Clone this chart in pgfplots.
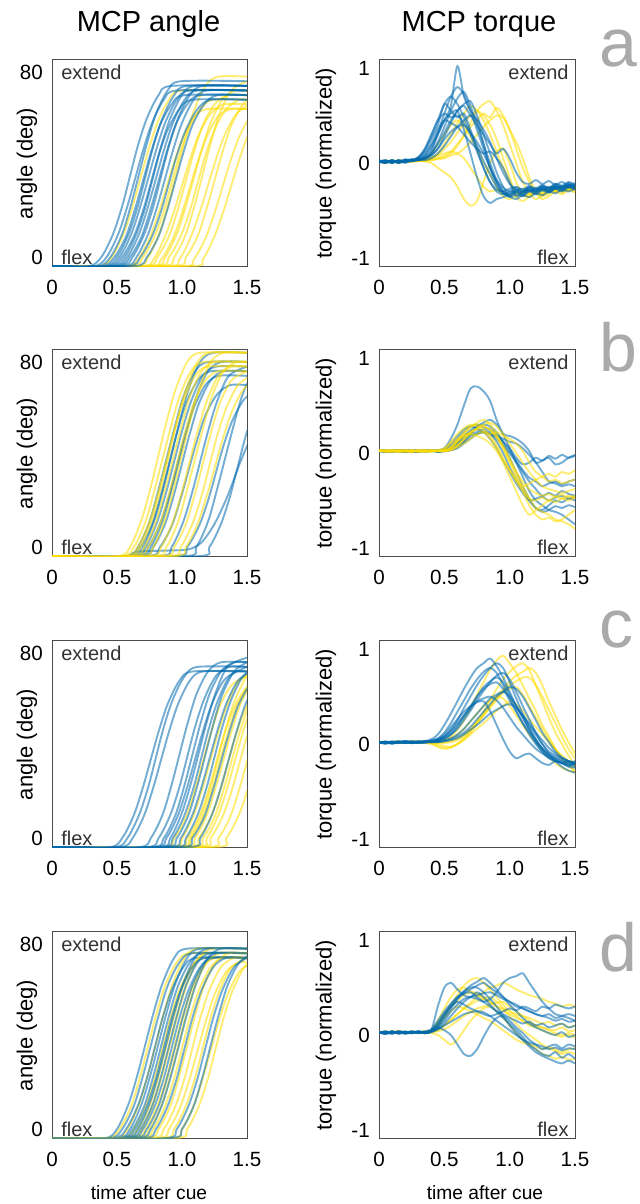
\documentclass[border=0pt]{standalone}
\usepackage{fontspec}
\setmainfont{Liberation Sans}
\usepackage{pgfplots}
\usepackage{pgfplotstable}
\pgfplotsset{compat=1.18}

\definecolor{tblue}{RGB}{0,105,175}
\definecolor{tyel}{RGB}{255,220,0}
\definecolor{lettergray}{RGB}{170,170,170}

\pgfplotsset{
  panel/.style={scale only axis, anchor=south west, width=97.5pt, height=103.5pt,
    xmin=0, xmax=1.5, xtick={0,0.5,1,1.5}, xticklabels={0,0.5,1.0,1.5},
    major tick length=0pt, tick label style={font=\fontsize{10.3}{12}\selectfont},
    xticklabel style={yshift=-3.2pt}, yticklabel style={xshift=-1.1pt},
    axis line style={black!70, line width=0.5pt}},
  anglepanel/.style={panel, ymin=-4.3, ymax=85.2, ytick={0,80}, yticklabels={0,80}},
  torquepanel/.style={panel, width=98pt, ymin=-1.095, ymax=1.085, ytick={-1,0,1}, yticklabels={-1,0,1}},
  yl/.style={color=tyel, line width=0.95pt, opacity=0.55, smooth},
  bl/.style={color=tblue, line width=0.95pt, opacity=0.55, smooth}
}
\tikzset{ext/.style={inner sep=0pt, font=\fontsize{10}{12}\selectfont, text=black!80}}

% torque traces, one row per trial, one column per time step (s)
\pgfplotstableread{
id 0 0.05 0.1 0.15 0.2 0.25 0.3 0.35 0.4 0.45 0.5 0.55 0.6 0.65 0.7 0.75 0.8 0.85 0.9 0.95 1 1.05 1.1 1.15 1.2 1.25 1.3 1.35 1.4 1.45 1.5
y1 0.02 0 0.02 0.01 0.03 0.02 0.03 0.02 0.04 0.05 0.06 0.1 0.18 0.3 0.42 0.55 0.62 0.65 0.55 0.4 0.2 0 -0.2 -0.32 -0.38 -0.34 -0.3 -0.27 -0.3 -0.26 -0.28
y2 0.01 0.02 0 0.03 0.02 0.03 0.02 0.03 0.03 0.05 0.08 0.12 0.2 0.28 0.38 0.45 0.52 0.48 0.58 0.5 0.35 0.22 0.05 -0.15 -0.3 -0.35 -0.32 -0.28 -0.31 -0.27 -0.3
y3 0.02 0.01 0.03 0 0.02 0.02 0.03 0.02 0 -0.05 -0.1 -0.15 -0.25 -0.38 -0.45 -0.4 -0.2 0 0.12 0.15 0 -0.2 -0.32 -0.36 -0.3 -0.33 -0.28 -0.3 -0.26 -0.28 -0.25
y4 0.01 0.02 0.01 0.02 0.02 0.03 0.04 0.05 0.1 0.2 0.3 0.4 0.45 0.38 0.28 0.15 0 -0.12 -0.25 -0.35 -0.38 -0.35 -0.3 -0.33 -0.28 -0.3 -0.26 -0.29 -0.25 -0.27 -0.24
y5 0.02 0 0.03 0.01 0.02 0.01 0.02 0.03 0.05 0.08 0.15 0.22 0.32 0.42 0.5 0.55 0.5 0.4 0.25 0.05 -0.15 -0.35 -0.4 -0.35 -0.3 -0.33 -0.28 -0.3 -0.26 -0.28 -0.25
y6 0.01 0.02 0.01 0.03 0.01 0.02 0.03 0.02 0.03 0.04 0.05 0.08 0.1 0.15 0.22 0.3 0.38 0.45 0.5 0.48 0.35 0.15 -0.05 -0.2 -0.32 -0.38 -0.35 -0.3 -0.33 -0.29 -0.31
y7 0.02 0.01 0.02 0 0.03 0.02 0.03 0.04 0.06 0.08 0.1 0.12 0.1 0.05 -0.05 -0.15 -0.25 -0.3 -0.28 -0.3 -0.35 -0.32 -0.34 -0.3 -0.32 -0.28 -0.3 -0.27 -0.29 -0.25 -0.28
y8 0.01 0.03 0.01 0.02 0.01 0.03 0.02 0.03 0.05 0.1 0.2 0.3 0.42 0.52 0.6 0.55 0.45 0.3 0.12 -0.05 -0.2 -0.3 -0.35 -0.33 -0.3 -0.32 -0.28 -0.31 -0.27 -0.29 -0.26
b1 0.02 0 0.03 0.01 0.03 0.02 0.05 0.12 0.25 0.4 0.62 0.55 0.48 0.52 0.35 0.15 -0.05 -0.2 -0.3 -0.33 -0.3 -0.26 -0.3 -0.25 -0.28 -0.24 -0.27 -0.22 -0.25 -0.21 -0.24
b2 0.01 0.02 0 0.03 0.01 0.04 0.03 0.06 0.12 0.3 0.45 0.6 1.02 0.7 0.55 0.45 0.2 -0.05 -0.2 -0.3 -0.32 -0.28 -0.31 -0.26 -0.29 -0.25 -0.27 -0.24 -0.26 -0.22 -0.25
b3 0.03 0.01 0.02 0 0.03 0.02 0.04 0.05 0.1 0.22 0.38 0.55 0.68 0.75 0.6 0.4 0.2 0 -0.18 -0.3 -0.36 -0.33 -0.35 -0.3 -0.33 -0.29 -0.31 -0.27 -0.3 -0.26 -0.28
b4 0.02 0 0.02 0.01 0.04 0.03 0.06 0.15 0.3 0.45 0.52 0.48 0.5 0.42 0.3 0.12 -0.05 -0.2 -0.28 -0.3 -0.27 -0.25 -0.28 -0.24 -0.27 -0.23 -0.26 -0.22 -0.24 -0.2 -0.23
b5 0.01 0.03 0 0.02 0.01 0.03 0.03 0.05 0.08 0.15 0.28 0.42 0.55 0.62 0.65 0.5 0.3 0.1 -0.1 -0.25 -0.35 -0.38 -0.34 -0.36 -0.32 -0.34 -0.3 -0.32 -0.28 -0.3 -0.27
b6 0.02 0.01 0.03 0 0.02 0.03 0.05 0.1 0.2 0.35 0.45 0.42 0.38 0.3 0.22 0.15 0.1 0.12 0.05 -0.05 -0.2 -0.35 -0.3 -0.28 -0.3 -0.26 -0.29 -0.25 -0.27 -0.23 -0.26
b7 0 0.02 0.01 0.03 0.02 0.04 0.03 0.08 0.18 0.3 0.45 0.52 0.55 0.35 0.1 -0.15 -0.35 -0.42 -0.38 -0.36 -0.33 -0.3 -0.32 -0.28 -0.3 -0.27 -0.29 -0.25 -0.27 -0.24 -0.26
b8 0.02 0 0.03 0.01 0.03 0.02 0.04 0.07 0.15 0.32 0.52 0.7 0.8 0.72 0.55 0.35 0.15 -0.05 -0.22 -0.32 -0.35 -0.31 -0.34 -0.29 -0.32 -0.28 -0.31 -0.27 -0.29 -0.25 -0.27
b9 0.01 0.03 0.01 0.02 0 0.03 0.04 0.05 0.1 0.2 0.32 0.45 0.55 0.6 0.5 0.4 0.3 0.2 0.1 0.15 0.05 -0.1 -0.2 -0.22 -0.18 -0.22 -0.19 -0.23 -0.2 -0.24 -0.21
b10 0.03 0.01 0.02 0.01 0.03 0.02 0.03 0.04 0.08 0.15 0.25 0.33 0.38 0.4 0.32 0.22 0.1 -0.05 -0.18 -0.26 -0.3 -0.29 -0.27 -0.3 -0.26 -0.28 -0.25 -0.27 -0.24 -0.26 -0.23
b11 0.02 0.01 0.03 0 0.03 0.03 0.06 0.14 0.28 0.45 0.62 0.7 0.62 0.48 0.32 0.18 0.02 -0.12 -0.25 -0.32 -0.34 -0.3 -0.33 -0.28 -0.31 -0.27 -0.3 -0.26 -0.28 -0.24 -0.27
b12 0.01 0.02 0 0.03 0.01 0.02 0.03 0.03 0.05 0.1 0.18 0.28 0.38 0.45 0.5 0.45 0.35 0.22 0.05 -0.1 -0.22 -0.28 -0.3 -0.26 -0.29 -0.25 -0.28 -0.24 -0.26 -0.23 -0.25
}\rawa
\pgfplotstabletranspose[colnames from=id,input colnames to=t]{\tqa}{\rawa}

\pgfplotstableread{
id 0 0.05 0.1 0.15 0.2 0.25 0.3 0.35 0.4 0.45 0.5 0.55 0.6 0.65 0.7 0.75 0.8 0.85 0.9 0.95 1 1.05 1.1 1.15 1.2 1.25 1.3 1.35 1.4 1.45 1.5
y1 0.03 0.02 0.03 0.01 0.03 0.02 0.02 0.03 0.02 0.02 0.03 0.06 0.12 0.2 0.27 0.32 0.35 0.3 0.2 0.05 -0.1 -0.25 -0.4 -0.55 -0.65 -0.7 -0.68 -0.72 -0.7 -0.65 -0.6
y2 0.02 0.03 0.02 0.02 0.03 0.01 0.03 0.02 0.02 0.03 0.05 0.12 0.2 0.26 0.3 0.28 0.25 0.18 0.08 -0.05 -0.18 -0.3 -0.4 -0.48 -0.5 -0.47 -0.5 -0.46 -0.48 -0.45 -0.47
y3 0.03 0.01 0.02 0.03 0.02 0.03 0.02 0.01 0.03 0.02 0.02 0.03 0.06 0.1 0.15 0.2 0.22 0.2 0.22 0.18 0.15 0.1 0.02 -0.1 -0.2 -0.25 -0.3 -0.28 -0.32 -0.3 -0.28
y4 0.02 0.02 0.03 0.02 0.02 0.03 0.01 0.03 0.02 0.03 0.02 0.05 0.12 0.18 0.22 0.25 0.22 0.15 0.05 -0.1 -0.25 -0.4 -0.55 -0.65 -0.6 -0.55 -0.5 -0.52 -0.48 -0.5 -0.47
y5 0.03 0.02 0.01 0.03 0.02 0.02 0.03 0.02 0.01 0.03 0.02 0.03 0.08 0.14 0.2 0.26 0.3 0.32 0.28 0.2 0.1 0 -0.1 -0.2 -0.28 -0.35 -0.38 -0.4 -0.42 -0.4 -0.38
y6 0.02 0.03 0.02 0.01 0.03 0.02 0.02 0.03 0.02 0.02 0.04 0.1 0.15 0.18 0.2 0.18 0.15 0.1 0.02 -0.08 -0.18 -0.28 -0.35 -0.32 -0.28 -0.25 -0.22 -0.25 -0.2 -0.22 -0.18
y7 0.03 0.02 0.03 0.02 0.01 0.03 0.02 0.02 0.03 0.02 0.03 0.04 0.08 0.15 0.22 0.26 0.28 0.25 0.18 0.08 -0.05 -0.2 -0.35 -0.48 -0.58 -0.62 -0.65 -0.7 -0.72 -0.75 -0.8
y8 0.02 0.02 0.02 0.03 0.02 0.01 0.03 0.02 0.03 0.02 0.02 0.06 0.14 0.22 0.28 0.3 0.28 0.24 0.16 0.05 -0.08 -0.2 -0.3 -0.38 -0.42 -0.45 -0.43 -0.46 -0.44 -0.47 -0.45
b1 0.03 0.01 0.03 0.02 0.03 0.01 0.02 0.03 0.02 0.03 0.05 0.15 0.3 0.5 0.68 0.7 0.65 0.55 0.35 0.2 0.18 0.15 0.1 0.02 -0.1 -0.08 -0.05 -0.12 -0.1 -0.05 -0.02
b2 0.02 0.03 0.01 0.03 0.02 0.02 0.01 0.03 0.02 0.02 0.03 0.06 0.12 0.18 0.24 0.28 0.3 0.28 0.22 0.1 -0.05 -0.2 -0.35 -0.48 -0.58 -0.6 -0.55 -0.5 -0.52 -0.48 -0.5
b3 0.03 0.02 0.02 0.01 0.03 0.03 0.02 0.02 0.03 0.01 0.02 0.05 0.1 0.18 0.22 0.25 0.22 0.2 0.15 0.08 0 -0.1 -0.2 -0.3 -0.38 -0.45 -0.42 -0.45 -0.4 -0.43 -0.45
b4 0.02 0.03 0.02 0.02 0.01 0.03 0.02 0.03 0.02 0.03 0.02 0.04 0.08 0.12 0.18 0.2 0.22 0.2 0.18 0.15 0.12 0.1 0.05 -0.02 -0.1 -0.2 -0.3 -0.32 -0.35 -0.33 -0.35
b5 0.03 0.01 0.02 0.03 0.02 0.02 0.03 0.01 0.02 0.03 0.02 0.03 0.06 0.12 0.2 0.28 0.32 0.35 0.3 0.2 0.05 -0.1 -0.25 -0.4 -0.5 -0.55 -0.6 -0.62 -0.65 -0.7 -0.75
b6 0.02 0.02 0.03 0.02 0.01 0.02 0.03 0.02 0.03 0.02 0.04 0.1 0.18 0.25 0.28 0.26 0.22 0.15 0.05 -0.08 -0.2 -0.32 -0.42 -0.5 -0.48 -0.46 -0.5 -0.47 -0.45 -0.48 -0.46
b7 0.03 0.02 0.01 0.03 0.02 0.03 0.02 0.02 0.03 0.01 0.03 0.05 0.1 0.15 0.2 0.22 0.25 0.22 0.18 0.12 0.05 -0.05 -0.12 -0.1 -0.05 -0.08 -0.03 -0.06 -0.02 -0.05 -0.03
b8 0.02 0.01 0.03 0.02 0.03 0.02 0.01 0.03 0.02 0.02 0.02 0.03 0.05 0.1 0.15 0.2 0.22 0.2 0.12 0 -0.15 -0.28 -0.4 -0.5 -0.58 -0.62 -0.6 -0.56 -0.58 -0.55 -0.57
b9 0.03 0.02 0.02 0.03 0.01 0.02 0.02 0.03 0.02 0.03 0.03 0.08 0.15 0.22 0.28 0.3 0.27 0.25 0.2 0.12 0.02 -0.08 -0.18 -0.26 -0.3 -0.35 -0.32 -0.3 -0.33 -0.3 -0.28
}\rawb
\pgfplotstabletranspose[colnames from=id,input colnames to=t]{\tqb}{\rawb}

\pgfplotstableread{
id 0 0.05 0.1 0.15 0.2 0.25 0.3 0.35 0.4 0.45 0.5 0.55 0.6 0.65 0.7 0.75 0.8 0.85 0.9 0.95 1 1.05 1.1 1.15 1.2 1.25 1.3 1.35 1.4 1.45 1.5
y1 0.02 0.01 0.02 0.02 0.01 0.02 0.03 0.02 0.02 0.03 0.04 0.08 0.15 0.25 0.38 0.52 0.65 0.78 0.88 0.93 0.85 0.75 0.62 0.48 0.35 0.2 0.08 -0.05 -0.15 -0.22 -0.28
y2 0.01 0.02 0.02 0.01 0.02 0.03 0.02 0.02 0.01 0 -0.02 -0.03 0 0.05 0.12 0.22 0.34 0.46 0.58 0.68 0.76 0.82 0.85 0.78 0.62 0.45 0.28 0.12 0 -0.12 -0.22
y3 0.02 0.02 0.01 0.02 0.02 0.01 0.02 0.01 0 -0.03 -0.05 -0.04 0 0.06 0.14 0.22 0.3 0.38 0.46 0.54 0.58 0.6 0.52 0.4 0.28 0.16 0.05 -0.05 -0.15 -0.22 -0.3
y4 0.02 0.01 0.02 0.03 0.01 0.02 0.02 0.02 0.02 0.01 0.02 0.03 0.06 0.1 0.16 0.24 0.32 0.4 0.48 0.56 0.62 0.66 0.7 0.7 0.62 0.5 0.36 0.22 0.08 -0.05 -0.15
y5 0.01 0.02 0.01 0.02 0.02 0.02 0.01 0.03 0.02 0.02 0.04 0.06 0.1 0.16 0.24 0.32 0.4 0.46 0.5 0.48 0.4 0.3 0.2 0.1 0.02 -0.06 -0.14 -0.2 -0.25 -0.28 -0.3
y6 0.02 0.02 0.02 0.01 0.02 0.01 0.02 0.02 0.01 0.02 0.01 0.02 0.04 0.08 0.14 0.22 0.3 0.4 0.5 0.58 0.66 0.72 0.76 0.8 0.75 0.62 0.45 0.3 0.15 0.02 -0.1
y7 0.02 0.01 0.02 0.02 0.01 0.02 0.02 0.01 0.01 -0.02 -0.04 -0.03 0 0.04 0.1 0.16 0.22 0.28 0.35 0.4 0.45 0.42 0.35 0.26 0.18 0.1 0.02 -0.06 -0.12 -0.18 -0.24
b1 0.02 0.01 0.02 0.02 0.03 0.01 0.02 0.03 0.05 0.1 0.2 0.32 0.45 0.58 0.7 0.8 0.85 0.9 0.82 0.7 0.55 0.4 0.28 0.15 0.02 -0.08 -0.15 -0.18 -0.2 -0.22 -0.2
b2 0.01 0.02 0 0.02 0.02 0.01 0.03 0.02 0.02 0.04 0.08 0.15 0.25 0.38 0.5 0.62 0.72 0.8 0.85 0.8 0.65 0.48 0.32 0.18 0.05 -0.05 -0.12 -0.15 -0.18 -0.2 -0.22
b3 0.02 0 0.02 0.01 0.03 0.02 0.01 0.02 0.03 0.03 0.05 0.1 0.18 0.28 0.38 0.5 0.6 0.66 0.7 0.65 0.52 0.4 0.28 0.15 0.05 -0.05 -0.1 -0.14 -0.17 -0.2 -0.18
b4 0.01 0.03 0.01 0.02 0.01 0.02 0.02 0.03 0.02 0.03 0.04 0.06 0.1 0.16 0.24 0.32 0.4 0.48 0.52 0.55 0.5 0.4 0.3 0.2 0.1 0 -0.08 -0.12 -0.15 -0.18 -0.2
b5 0.02 0.01 0.02 0.03 0.01 0.02 0.03 0.02 0.03 0.05 0.1 0.18 0.26 0.34 0.4 0.44 0.45 0.35 0.2 0.05 -0.08 -0.15 -0.12 -0.1 -0.15 -0.2 -0.22 -0.18 -0.2 -0.23 -0.2
b6 0.02 0.02 0.01 0.02 0.03 0.01 0.02 0.02 0.04 0.06 0.12 0.22 0.34 0.46 0.58 0.68 0.76 0.8 0.75 0.62 0.48 0.35 0.22 0.1 0 -0.08 -0.14 -0.18 -0.2 -0.24 -0.25
b7 0.01 0.02 0.02 0.01 0.02 0.03 0.01 0.02 0.02 0.02 0.03 0.05 0.08 0.12 0.18 0.26 0.34 0.42 0.5 0.55 0.6 0.58 0.5 0.38 0.25 0.12 0.02 -0.08 -0.14 -0.18 -0.22
b8 0.02 0.01 0.03 0.01 0.02 0.01 0.02 0.03 0.02 0.02 0.03 0.04 0.06 0.1 0.15 0.2 0.26 0.32 0.36 0.4 0.42 0.38 0.3 0.22 0.12 0.04 -0.04 -0.1 -0.15 -0.18 -0.2
b9 0.02 0.02 0.01 0.03 0.01 0.02 0.02 0.01 0.03 0.04 0.06 0.1 0.16 0.25 0.35 0.46 0.56 0.65 0.72 0.75 0.68 0.55 0.4 0.26 0.12 0 -0.1 -0.18 -0.24 -0.28 -0.3
b10 0.01 0.02 0.02 0.02 0.03 0.02 0.01 0.03 0.03 0.05 0.08 0.14 0.22 0.3 0.38 0.45 0.48 0.5 0.46 0.38 0.28 0.18 0.1 0.02 -0.05 -0.1 -0.14 -0.17 -0.2 -0.18 -0.2
b11 0.02 0.01 0.02 0.02 0.01 0.03 0.02 0.02 0.03 0.04 0.07 0.12 0.2 0.3 0.4 0.5 0.58 0.63 0.65 0.58 0.46 0.34 0.22 0.12 0.03 -0.05 -0.12 -0.16 -0.2 -0.22 -0.24
}\rawc
\pgfplotstabletranspose[colnames from=id,input colnames to=t]{\tqc}{\rawc}

\pgfplotstableread{
id 0 0.05 0.1 0.15 0.2 0.25 0.3 0.35 0.4 0.45 0.5 0.55 0.6 0.65 0.7 0.75 0.8 0.85 0.9 0.95 1 1.05 1.1 1.15 1.2 1.25 1.3 1.35 1.4 1.45 1.5
y1 0.03 0.02 0.04 0.02 0.03 0.03 0.03 0.02 0.04 0.1 0.2 0.32 0.42 0.52 0.58 0.6 0.55 0.48 0.4 0.32 0.25 0.2 0.15 0.1 0.08 0.05 0.02 0 -0.02 0 -0.03
y2 0.02 0.04 0.02 0.03 0.02 0.03 0.03 0.04 0.02 0 -0.05 -0.1 -0.05 0.05 0.15 0.22 0.28 0.3 0.25 0.18 0.1 0.02 -0.05 -0.1 -0.15 -0.2 -0.22 -0.25 -0.23 -0.26 -0.25
y3 0.03 0.02 0.03 0.04 0.02 0.03 0.02 0.03 0.05 0.15 0.28 0.4 0.48 0.5 0.46 0.42 0.38 0.35 0.3 0.25 0.22 0.18 0.15 0.12 0.1 0.08 0.06 0.05 0.08 0.04 0.05
y4 0.02 0.03 0.02 0.03 0.03 0.02 0.03 0.02 0.03 0.05 0.1 0.16 0.22 0.28 0.32 0.36 0.38 0.4 0.35 0.28 0.2 0.12 0.05 0 -0.05 -0.1 -0.14 -0.17 -0.2 -0.18 -0.2
y5 0.03 0.02 0.04 0.02 0.03 0.02 0.03 0.03 0.04 0.06 0.1 0.16 0.22 0.28 0.34 0.4 0.45 0.5 0.52 0.55 0.52 0.48 0.45 0.42 0.4 0.38 0.35 0.33 0.3 0.32 0.3
y6 0.02 0.03 0.03 0.02 0.03 0.03 0.02 0.04 0.04 0.1 0.18 0.25 0.3 0.28 0.25 0.22 0.18 0.15 0.1 0.05 0 -0.05 -0.08 -0.1 -0.12 -0.15 -0.13 -0.15 -0.18 -0.15 -0.14
y7 0.03 0.02 0.03 0.03 0.02 0.04 0.02 0.03 0.05 0.12 0.22 0.3 0.36 0.42 0.45 0.44 0.4 0.35 0.3 0.28 0.25 0.22 0.2 0.18 0.15 0.12 0.14 0.1 0.12 0.08 0.1
y8 0.02 0.03 0.02 0.04 0.03 0.02 0.03 0.02 0.03 0.04 0.06 0.1 0.15 0.2 0.24 0.28 0.3 0.32 0.34 0.35 0.3 0.25 0.2 0.15 0.1 0.08 0.05 0.02 0 0.02 0
b1 0.03 0.01 0.04 0.02 0.04 0.02 0.04 0.03 0.05 0.3 0.5 0.55 0.48 0.42 0.4 0.45 0.4 0.32 0.25 0.18 0.12 0.05 -0.02 -0.1 -0.15 -0.2 -0.22 -0.18 -0.24 -0.2 -0.25
b2 0.02 0.04 0.02 0.04 0.01 0.03 0.03 0.02 0.04 0.1 0.2 0.3 0.38 0.44 0.48 0.52 0.55 0.5 0.45 0.4 0.35 0.32 0.28 0.25 0.22 0.2 0.18 0.15 0.17 0.14 0.15
b3 0.03 0.02 0.04 0.01 0.03 0.02 0.04 0.03 0.05 0.08 0.05 0 -0.1 -0.2 -0.22 -0.15 -0.02 0.1 0.18 0.2 0.15 0.08 0.02 -0.05 -0.1 -0.15 -0.12 -0.1 -0.14 -0.1 -0.12
b4 0.02 0.03 0.02 0.04 0.02 0.03 0.02 0.04 0.06 0.15 0.25 0.33 0.4 0.44 0.45 0.4 0.35 0.3 0.25 0.22 0.18 0.15 0.12 0.14 0.1 0.12 0.08 0.1 0.12 0.08 0.1
b5 0.03 0.01 0.03 0.03 0.02 0.04 0.02 0.03 0.04 0.08 0.15 0.25 0.32 0.38 0.4 0.38 0.35 0.38 0.45 0.55 0.6 0.62 0.65 0.55 0.45 0.35 0.28 0.22 0.2 0.18 0.15
b6 0.02 0.03 0.01 0.04 0.03 0.02 0.03 0.02 0.04 0.12 0.22 0.32 0.4 0.46 0.5 0.5 0.45 0.38 0.3 0.2 0.1 0.02 -0.05 -0.12 -0.18 -0.22 -0.25 -0.28 -0.3 -0.27 -0.3
b7 0.03 0.02 0.03 0.02 0.03 0.03 0.02 0.03 0.05 0.12 0.22 0.3 0.35 0.32 0.28 0.25 0.22 0.2 0.22 0.25 0.28 0.26 0.3 0.28 0.25 0.3 0.28 0.32 0.3 0.28 0.3
b8 0.02 0.04 0.02 0.03 0.02 0.04 0.03 0.02 0.03 0.08 0.18 0.28 0.38 0.46 0.52 0.56 0.6 0.55 0.48 0.4 0.32 0.25 0.18 0.12 0.08 0.05 0.02 0 0.03 -0.02 0
b9 0.03 0.02 0.04 0.02 0.03 0.02 0.03 0.03 0.04 0.06 0.1 0.14 0.18 0.22 0.24 0.25 0.24 0.2 0.15 0.1 0.05 0 -0.05 -0.08 -0.1 -0.12 -0.15 -0.13 -0.16 -0.14 -0.15
b10 0.02 0.03 0.02 0.03 0.03 0.02 0.04 0.02 0.03 0.06 0.12 0.2 0.28 0.35 0.4 0.42 0.44 0.45 0.42 0.38 0.35 0.3 0.28 0.25 0.22 0.2 0.22 0.18 0.2 0.22 0.2
}\rawd
\pgfplotstabletranspose[colnames from=id,input colnames to=t]{\tqd}{\rawd}

\begin{document}
\begin{tikzpicture}
\useasboundingbox (0,0) rectangle (320pt,602pt);

% ---------- row a ----------
\begin{axis}[anglepanel, at={(26pt,468.5pt)}]
\addplot[yl] coordinates {(0,-4)(.36,-4)(.46,0)(.55,10)(.62,22)(.68,34)(.74,46)(.81,58)(.90,68)(1.00,72)(1.5,72)};
\addplot[yl] coordinates {(0,-4)(.56,-4)(.66,-1)(.75,8)(.82,19)(.88,30)(.94,41)(1.01,52)(1.10,61)(1.20,64)(1.5,64)};
\addplot[yl] coordinates {(0,-4)(.60,-4)(.70,0)(.79,9)(.86,20)(.92,32)(.98,44)(1.05,55)(1.14,64)(1.24,68)(1.5,68)};
\addplot[yl] coordinates {(0,-4)(.64,-4)(.74,0)(.83,11)(.90,24)(.96,37)(1.02,50)(1.09,63)(1.18,74)(1.28,78)(1.5,78)};
\addplot[yl] coordinates {(0,-4)(.68,-4)(.78,-1)(.87,9)(.94,20)(1.00,31)(1.06,42)(1.13,53)(1.22,62)(1.32,66)(1.5,66)};
\addplot[yl] coordinates {(0,-4)(.71,-4)(.81,0)(.90,9)(.97,21)(1.03,33)(1.09,45)(1.16,57)(1.25,66)(1.35,70)(1.5,70)};
\addplot[yl] coordinates {(0,-4)(.74,-4)(.84,-1)(.93,8)(1.00,19)(1.06,30)(1.12,41)(1.19,52)(1.28,61)(1.38,64)(1.5,64)};
\addplot[yl] coordinates {(0,-4)(.77,-4)(.87,0)(.96,10)(1.03,22)(1.09,34)(1.15,46)(1.22,58)(1.31,68)(1.41,72)(1.5,72)};
\addplot[yl] coordinates {(0,-4)(.80,-4)(.90,0)(.99,9)(1.06,20)(1.12,32)(1.18,44)(1.25,55)(1.34,64)(1.44,68)(1.5,68)};
\addplot[yl] coordinates {(0,-4)(.84,-4)(.94,0)(1.03,10)(1.10,23)(1.16,36)(1.22,49)(1.29,62)(1.38,72)(1.5,76)};
\addplot[yl] coordinates {(0,-4)(.88,-4)(.98,-1)(1.07,9)(1.14,20)(1.20,31)(1.26,42)(1.33,53)(1.42,62)(1.52,66)};
\addplot[yl] coordinates {(0,-4)(.93,-4)(1.03,0)(1.12,9)(1.19,21)(1.25,33)(1.31,45)(1.38,57)(1.47,66)(1.57,70)};
\addplot[yl] coordinates {(0,-4)(.99,-4)(1.09,-1)(1.18,8)(1.25,19)(1.31,30)(1.37,41)(1.44,52)(1.53,61)(1.63,64)};
\addplot[yl] coordinates {(0,-4)(1.06,-4)(1.16,-1)(1.25,9)(1.32,20)(1.38,31)(1.44,42)(1.51,53)(1.60,62)};
\addplot[bl] coordinates {(0,-4)(.28,-4)(.38,0)(.47,10)(.54,22)(.60,35)(.66,48)(.73,60)(.82,70)(.92,74)(1.5,74)};
\addplot[bl] coordinates {(0,-4)(.32,-4)(.42,0)(.51,10)(.58,22)(.64,34)(.70,46)(.77,58)(.86,68)(.96,72)(1.5,72)};
\addplot[bl] coordinates {(0,-4)(.35,-4)(.45,0)(.54,10)(.61,23)(.67,36)(.73,49)(.80,62)(.89,72)(.99,76)(1.5,76)};
\addplot[bl] coordinates {(0,-4)(.38,-4)(.48,0)(.57,9)(.64,21)(.70,33)(.76,45)(.83,57)(.92,66)(1.02,70)(1.5,70)};
\addplot[bl] coordinates {(0,-4)(.40,-4)(.50,0)(.59,10)(.66,22)(.72,35)(.78,48)(.85,60)(.94,70)(1.04,74)(1.5,74)};
\addplot[bl] coordinates {(0,-4)(.42,-4)(.52,0)(.61,10)(.68,22)(.74,34)(.80,46)(.87,58)(.96,68)(1.06,72)(1.5,72)};
\addplot[bl] coordinates {(0,-4)(.44,-4)(.54,0)(.63,9)(.70,20)(.76,32)(.82,44)(.89,55)(.98,64)(1.08,68)(1.5,68)};
\addplot[bl] coordinates {(0,-4)(.46,-4)(.56,0)(.65,10)(.72,22)(.78,35)(.84,48)(.91,60)(1.00,70)(1.10,74)(1.5,74)};
\addplot[bl] coordinates {(0,-4)(.48,-4)(.58,0)(.67,10)(.74,22)(.80,34)(.86,46)(.93,58)(1.02,68)(1.12,72)(1.5,72)};
\addplot[bl] coordinates {(0,-4)(.50,-4)(.60,0)(.69,9)(.76,21)(.82,33)(.88,45)(.95,57)(1.04,66)(1.14,70)(1.5,70)};
\addplot[bl] coordinates {(0,-4)(.52,-4)(.62,0)(.71,10)(.78,22)(.84,35)(.90,48)(.97,60)(1.06,70)(1.16,74)(1.5,74)};
\addplot[bl] coordinates {(0,-4)(.55,-4)(.65,0)(.74,10)(.81,22)(.87,34)(.93,46)(1.00,58)(1.09,68)(1.19,72)(1.5,72)};
\addplot[bl] coordinates {(0,-4)(.58,-4)(.68,0)(.77,9)(.84,20)(.90,32)(.96,44)(1.03,55)(1.12,64)(1.22,68)(1.5,68)};
\addplot[bl] coordinates {(0,-4)(.63,-4)(.73,0)(.82,9)(.89,21)(.95,33)(1.01,45)(1.08,57)(1.17,66)(1.27,70)(1.5,70)};
\node[ext, anchor=west] at (rel axis cs:0.046,0.942) {extend};
\node[ext, anchor=west] at (rel axis cs:0.046,0.048) {flex};
\end{axis}

\begin{axis}[torquepanel, at={(189.5pt,468.5pt)}]
\pgfplotsinvokeforeach{y1,y2,y3,y4,y5,y6,y7,y8}{\addplot[yl] table[x=t,y=#1]{\tqa};}
\pgfplotsinvokeforeach{b1,b2,b3,b4,b5,b6,b7,b8,b9,b10,b11,b12}{\addplot[bl] table[x=t,y=#1]{\tqa};}
\node[ext, anchor=east] at (rel axis cs:0.969,0.942) {extend};
\node[ext, anchor=east] at (rel axis cs:0.969,0.048) {flex};
\end{axis}

% ---------- row b ----------
\begin{axis}[anglepanel, at={(26pt,323.5pt)}]
\addplot[bl] coordinates {(0,-4)(.56,-4)(.66,0)(.75,11)(.82,25)(.88,38)(.94,51)(1.01,65)(1.10,76)(1.20,80)(1.5,80)};
\addplot[bl] coordinates {(0,-4)(.58,-4)(.68,0)(.77,10)(.84,23)(.90,36)(.96,49)(1.03,62)(1.12,72)(1.22,76)(1.5,76)};
\addplot[bl] coordinates {(0,-4)(.60,-4)(.70,0)(.79,12)(.86,26)(.92,40)(.98,54)(1.05,68)(1.14,80)(1.24,84)(1.5,84)};
\addplot[bl] coordinates {(0,-4)(.62,-4)(.72,0)(.81,11)(.88,24)(.94,37)(1.00,50)(1.07,63)(1.16,74)(1.26,78)(1.5,78)};
\addplot[bl] coordinates {(0,-4)(.64,-4)(.74,0)(.83,10)(.90,22)(.96,35)(1.02,48)(1.09,60)(1.18,70)(1.28,74)(1.5,74)};
\addplot[bl] coordinates {(0,-4)(.66,-4)(.76,0)(.85,11)(.92,25)(.98,38)(1.04,51)(1.11,65)(1.20,76)(1.30,80)(1.5,80)};
\addplot[bl] coordinates {(0,-4)(.68,-4)(.78,0)(.87,10)(.94,23)(1.00,36)(1.06,49)(1.13,62)(1.22,72)(1.32,76)(1.5,76)};
\addplot[bl] coordinates {(0,-4)(.73,-4)(.83,0)(.92,9)(.99,21)(1.05,33)(1.11,45)(1.18,57)(1.27,66)(1.37,70)(1.5,70)};
\addplot[bl] coordinates {(0,-4)(.82,-4)(.92,0)(1.01,11)(1.08,24)(1.14,37)(1.20,50)(1.27,63)(1.36,74)(1.5,78)};
\addplot[bl] coordinates {(0,-4)(.94,-4)(1.04,0)(1.13,9)(1.20,20)(1.26,32)(1.32,44)(1.39,55)(1.48,64)(1.58,68)};
\addplot[bl] coordinates {(0,-4)(1.01,-4)(1.11,0)(1.20,11)(1.27,25)(1.33,38)(1.39,51)(1.46,65)(1.55,76)(1.65,80)};
\addplot[bl] coordinates {(0,-4)(.55,-4)(.65,-2)(.90,-1.5)(1.05,-1)(1.15,2)(1.25,10)(1.35,22)(1.45,37)(1.55,50)};
\addplot[bl] coordinates {(0,-4)(1.11,-4)(1.21,0)(1.30,10)(1.37,22)(1.43,35)(1.49,48)(1.56,60)};
\addplot[yl] coordinates {(0,-4)(.50,-4)(.60,0)(.69,12)(.76,26)(.82,40)(.88,54)(.95,68)(1.04,80)(1.14,84)(1.5,84)};
\addplot[yl] coordinates {(0,-4)(.53,-4)(.63,0)(.72,11)(.79,25)(.85,38)(.91,51)(.98,65)(1.07,76)(1.17,80)(1.5,80)};
\addplot[yl] coordinates {(0,-4)(.56,-4)(.66,0)(.75,11)(.82,24)(.88,37)(.94,50)(1.01,63)(1.10,74)(1.20,78)(1.5,78)};
\addplot[yl] coordinates {(0,-4)(.58,-4)(.68,0)(.77,12)(.84,26)(.90,40)(.96,54)(1.03,68)(1.12,80)(1.22,84)(1.5,84)};
\addplot[yl] coordinates {(0,-4)(.61,-4)(.71,0)(.80,11)(.87,25)(.93,38)(.99,51)(1.06,65)(1.15,76)(1.25,80)(1.5,80)};
\addplot[yl] coordinates {(0,-4)(.64,-4)(.74,0)(.83,10)(.90,23)(.96,36)(1.02,49)(1.09,62)(1.18,72)(1.28,76)(1.5,76)};
\addplot[yl] coordinates {(0,-4)(.68,-4)(.78,0)(.87,12)(.94,26)(1.00,40)(1.06,54)(1.13,68)(1.22,80)(1.32,84)(1.5,84)};
\addplot[yl] coordinates {(0,-4)(.74,-4)(.84,0)(.93,11)(1.00,24)(1.06,37)(1.12,50)(1.19,63)(1.28,74)(1.38,78)(1.5,78)};
\addplot[yl] coordinates {(0,-4)(.78,-4)(.88,0)(.97,11)(1.04,25)(1.10,38)(1.16,51)(1.23,65)(1.32,76)(1.42,80)(1.5,80)};
\addplot[yl] coordinates {(0,-4)(.84,-4)(.94,0)(1.03,10)(1.10,23)(1.16,36)(1.22,49)(1.29,62)(1.38,72)(1.5,76)};
\addplot[yl] coordinates {(0,-4)(.89,-4)(.99,0)(1.08,10)(1.15,22)(1.21,35)(1.27,48)(1.34,60)(1.43,70)(1.53,74)};
\addplot[yl] coordinates {(0,-4)(.93,-4)(1.03,0)(1.12,10)(1.19,22)(1.25,34)(1.31,46)(1.38,58)(1.47,68)(1.57,72)};
\node[ext, anchor=west] at (rel axis cs:0.046,0.942) {extend};
\node[ext, anchor=west] at (rel axis cs:0.046,0.048) {flex};
\end{axis}

\begin{axis}[torquepanel, at={(189.5pt,323.5pt)}]
\pgfplotsinvokeforeach{b1,b2,b3,b4,b5,b6,b7,b8,b9}{\addplot[bl] table[x=t,y=#1]{\tqb};}
\pgfplotsinvokeforeach{y1,y2,y3,y4,y5,y6,y7,y8}{\addplot[yl] table[x=t,y=#1]{\tqb};}
\node[ext, anchor=east] at (rel axis cs:0.969,0.942) {extend};
\node[ext, anchor=east] at (rel axis cs:0.969,0.048) {flex};
\end{axis}

% ---------- row c ----------
\begin{axis}[anglepanel, at={(26pt,178pt)}]
\addplot[yl] coordinates {(0,-4)(.84,-4)(.94,0)(1.03,9)(1.10,21)(1.16,33)(1.22,45)(1.29,57)(1.38,66)(1.5,70)};
\addplot[yl] coordinates {(0,-4)(.90,-4)(1.00,0)(1.09,10)(1.16,22)(1.22,34)(1.28,46)(1.35,58)(1.44,68)(1.54,72)};
\addplot[yl] coordinates {(0,-4)(.94,-4)(1.04,0)(1.13,9)(1.20,20)(1.26,32)(1.32,44)(1.39,55)(1.48,64)(1.58,68)};
\addplot[yl] coordinates {(0,-4)(.97,-4)(1.07,0)(1.16,9)(1.23,21)(1.29,33)(1.35,45)(1.42,57)(1.51,66)};
\addplot[yl] coordinates {(0,-4)(1.00,-4)(1.10,0)(1.19,10)(1.26,22)(1.32,34)(1.38,46)(1.45,58)(1.54,68)};
\addplot[yl] coordinates {(0,-4)(1.03,-4)(1.13,0)(1.22,9)(1.29,20)(1.35,32)(1.41,44)(1.48,55)(1.57,64)};
\addplot[yl] coordinates {(0,-4)(1.06,-4)(1.16,0)(1.25,9)(1.32,21)(1.38,33)(1.44,45)(1.51,57)};
\addplot[yl] coordinates {(0,-4)(1.09,-4)(1.19,0)(1.28,10)(1.35,22)(1.41,34)(1.47,46)(1.54,58)};
\addplot[yl] coordinates {(0,-4)(1.12,-4)(1.22,0)(1.31,9)(1.38,20)(1.44,32)(1.50,44)(1.57,55)};
\addplot[yl] coordinates {(0,-4)(1.18,-4)(1.28,0)(1.37,9)(1.44,21)(1.50,33)(1.56,45)};
\addplot[yl] coordinates {(0,-4)(1.24,-4)(1.34,0)(1.43,9)(1.50,20)(1.56,32)};
\addplot[yl] coordinates {(0,-4)(.96,-4)(1.06,0)(1.15,10)(1.22,22)(1.28,35)(1.34,48)(1.41,60)(1.50,70)(1.60,74)};
\addplot[bl] coordinates {(0,-4)(.44,-4)(.54,0)(.63,10)(.70,22)(.76,34)(.82,46)(.89,58)(.98,68)(1.08,72)(1.5,72)};
\addplot[bl] coordinates {(0,-4)(.48,-4)(.58,0)(.67,10)(.74,22)(.80,35)(.86,48)(.93,60)(1.02,70)(1.12,74)(1.5,74)};
\addplot[bl] coordinates {(0,-4)(.52,-4)(.62,0)(.71,10)(.78,22)(.84,34)(.90,46)(.97,58)(1.06,68)(1.16,72)(1.5,72)};
\addplot[bl] coordinates {(0,-4)(.66,-4)(.76,0)(.85,10)(.92,23)(.98,36)(1.04,49)(1.11,62)(1.20,72)(1.30,76)(1.5,76)};
\addplot[bl] coordinates {(0,-4)(.72,-4)(.82,0)(.91,10)(.98,22)(1.04,35)(1.10,48)(1.17,60)(1.26,70)(1.36,74)(1.5,74)};
\addplot[bl] coordinates {(0,-4)(.76,-4)(.86,0)(.95,10)(1.02,23)(1.08,36)(1.14,49)(1.21,62)(1.30,72)(1.40,76)(1.5,76)};
\addplot[bl] coordinates {(0,-4)(.78,-4)(.88,0)(.97,10)(1.04,22)(1.10,34)(1.16,46)(1.23,58)(1.32,68)(1.42,72)(1.5,72)};
\addplot[bl] coordinates {(0,-4)(.81,-4)(.91,0)(1.00,11)(1.07,24)(1.13,37)(1.19,50)(1.26,63)(1.35,74)(1.5,78)};
\addplot[bl] coordinates {(0,-4)(.83,-4)(.93,0)(1.02,10)(1.09,22)(1.15,35)(1.21,48)(1.28,60)(1.37,70)(1.5,74)};
\addplot[bl] coordinates {(0,-4)(.86,-4)(.96,0)(1.05,10)(1.12,23)(1.18,36)(1.24,49)(1.31,62)(1.40,72)(1.50,76)};
\addplot[bl] coordinates {(0,-4)(.89,-4)(.99,0)(1.08,10)(1.15,22)(1.21,34)(1.27,46)(1.34,58)(1.43,68)(1.53,72)};
\addplot[bl] coordinates {(0,-4)(.93,-4)(1.03,0)(1.12,10)(1.19,22)(1.25,35)(1.31,48)(1.38,60)(1.47,70)(1.57,74)};
\addplot[bl] coordinates {(0,-4)(.98,-4)(1.08,0)(1.17,9)(1.24,21)(1.30,33)(1.36,45)(1.43,57)(1.52,66)(1.62,70)};
\addplot[bl] coordinates {(0,-4)(1.04,-4)(1.14,0)(1.23,10)(1.30,22)(1.36,34)(1.42,46)(1.49,58)(1.58,68)};
\node[ext, anchor=west] at (rel axis cs:0.046,0.942) {extend};
\node[ext, anchor=west] at (rel axis cs:0.046,0.048) {flex};
\end{axis}

\begin{axis}[torquepanel, at={(189.5pt,178pt)}]
\pgfplotsinvokeforeach{y1,y2,y3,y4,y5,y6,y7}{\addplot[yl] table[x=t,y=#1]{\tqc};}
\pgfplotsinvokeforeach{b1,b2,b3,b4,b5,b6,b7,b8,b9,b10,b11}{\addplot[bl] table[x=t,y=#1]{\tqc};}
\node[ext, anchor=east] at (rel axis cs:0.969,0.942) {extend};
\node[ext, anchor=east] at (rel axis cs:0.969,0.048) {flex};
\end{axis}

% ---------- row d ----------
\begin{axis}[anglepanel, at={(26pt,32.5pt)}]
\addplot[yl] coordinates {(0,-4)(.42,-4)(.52,0)(.61,10)(.68,23)(.74,36)(.80,49)(.87,62)(.96,72)(1.06,76)(1.5,76)};
\addplot[bl] coordinates {(0,-4)(.40,-4)(.50,0)(.59,11)(.66,24)(.72,37)(.78,50)(.85,63)(.94,74)(1.04,78)(1.5,78)};
\addplot[yl] coordinates {(0,-4)(.48,-4)(.58,0)(.67,11)(.74,24)(.80,37)(.86,50)(.93,63)(1.02,74)(1.12,78)(1.5,78)};
\addplot[bl] coordinates {(0,-4)(.44,-4)(.54,0)(.63,10)(.70,23)(.76,36)(.82,49)(.89,62)(.98,72)(1.08,76)(1.5,76)};
\addplot[yl] coordinates {(0,-4)(.53,-4)(.63,0)(.72,10)(.79,22)(.85,35)(.91,48)(.98,60)(1.07,70)(1.17,74)(1.5,74)};
\addplot[bl] coordinates {(0,-4)(.47,-4)(.57,0)(.66,10)(.73,22)(.79,35)(.85,48)(.92,60)(1.01,70)(1.11,74)(1.5,74)};
\addplot[yl] coordinates {(0,-4)(.56,-4)(.66,0)(.75,10)(.82,23)(.88,36)(.94,49)(1.01,62)(1.10,72)(1.20,76)(1.5,76)};
\addplot[bl] coordinates {(0,-4)(.50,-4)(.60,0)(.69,11)(.76,24)(.82,37)(.88,50)(.95,63)(1.04,74)(1.14,78)(1.5,78)};
\addplot[yl] coordinates {(0,-4)(.59,-4)(.69,0)(.78,11)(.85,24)(.91,37)(.97,50)(1.04,63)(1.13,74)(1.23,78)(1.5,78)};
\addplot[bl] coordinates {(0,-4)(.52,-4)(.62,0)(.71,10)(.78,23)(.84,36)(.90,49)(.97,62)(1.06,72)(1.16,76)(1.5,76)};
\addplot[yl] coordinates {(0,-4)(.62,-4)(.72,0)(.81,10)(.88,22)(.94,35)(1.00,48)(1.07,60)(1.16,70)(1.26,74)(1.5,74)};
\addplot[bl] coordinates {(0,-4)(.54,-4)(.64,0)(.73,10)(.80,22)(.86,35)(.92,48)(.99,60)(1.08,70)(1.18,74)(1.5,74)};
\addplot[yl] coordinates {(0,-4)(.65,-4)(.75,0)(.84,10)(.91,23)(.97,36)(1.03,49)(1.10,62)(1.19,72)(1.29,76)(1.5,76)};
\addplot[bl] coordinates {(0,-4)(.56,-4)(.66,0)(.75,11)(.82,24)(.88,37)(.94,50)(1.01,63)(1.10,74)(1.20,78)(1.5,78)};
\addplot[yl] coordinates {(0,-4)(.68,-4)(.78,0)(.87,10)(.94,22)(1.00,35)(1.06,48)(1.13,60)(1.22,70)(1.32,74)(1.5,74)};
\addplot[bl] coordinates {(0,-4)(.58,-4)(.68,0)(.77,10)(.84,23)(.90,36)(.96,49)(1.03,62)(1.12,72)(1.22,76)(1.5,76)};
\addplot[yl] coordinates {(0,-4)(.72,-4)(.82,0)(.91,10)(.98,23)(1.04,36)(1.10,49)(1.17,62)(1.26,72)(1.36,76)(1.5,76)};
\addplot[bl] coordinates {(0,-4)(.60,-4)(.70,0)(.79,10)(.86,22)(.92,35)(.98,48)(1.05,60)(1.14,70)(1.24,74)(1.5,74)};
\addplot[yl] coordinates {(0,-4)(.76,-4)(.86,0)(.95,10)(1.02,22)(1.08,35)(1.14,48)(1.21,60)(1.30,70)(1.40,74)(1.5,74)};
\addplot[bl] coordinates {(0,-4)(.63,-4)(.73,0)(.82,10)(.89,23)(.95,36)(1.01,49)(1.08,62)(1.17,72)(1.27,76)(1.5,76)};
\addplot[yl] coordinates {(0,-4)(.80,-4)(.90,0)(.99,10)(1.06,22)(1.12,34)(1.18,46)(1.25,58)(1.34,68)(1.44,72)(1.5,72)};
\addplot[bl] coordinates {(0,-4)(.66,-4)(.76,0)(.85,11)(.92,24)(.98,37)(1.04,50)(1.11,63)(1.20,74)(1.30,78)(1.5,78)};
\addplot[yl] coordinates {(0,-4)(.84,-4)(.94,0)(1.03,10)(1.10,22)(1.16,35)(1.22,48)(1.29,60)(1.38,70)(1.5,74)};
\addplot[bl] coordinates {(0,-4)(.70,-4)(.80,0)(.89,10)(.96,22)(1.02,35)(1.08,48)(1.15,60)(1.24,70)(1.34,74)(1.5,74)};
\addplot[yl] coordinates {(0,-4)(.90,-4)(1.00,0)(1.09,10)(1.16,22)(1.22,34)(1.28,46)(1.35,58)(1.44,68)(1.54,72)};
\addplot[bl] coordinates {(0,-4)(.86,-4)(.96,0)(1.05,10)(1.12,22)(1.18,35)(1.24,48)(1.31,60)(1.40,70)(1.50,74)};
\addplot[yl] coordinates {(0,-4)(.94,-4)(1.04,0)(1.13,10)(1.20,22)(1.26,35)(1.32,48)(1.39,60)(1.48,70)(1.58,74)};
\addplot[bl] coordinates {(0,-4)(.90,-4)(1.00,0)(1.09,10)(1.16,23)(1.22,36)(1.28,49)(1.35,62)(1.44,72)(1.54,76)};
\node[ext, anchor=west] at (rel axis cs:0.046,0.942) {extend};
\node[ext, anchor=west] at (rel axis cs:0.046,0.048) {flex};
\end{axis}

\begin{axis}[torquepanel, at={(189.5pt,32.5pt)}]
\pgfplotsinvokeforeach{y1,y2,y3,y4,y5,y6,y7,y8}{\addplot[yl] table[x=t,y=#1]{\tqd};}
\pgfplotsinvokeforeach{b1,b2,b3,b4,b5,b6,b7,b8,b9,b10}{\addplot[bl] table[x=t,y=#1]{\tqd};}
\node[ext, anchor=east] at (rel axis cs:0.969,0.942) {extend};
\node[ext, anchor=east] at (rel axis cs:0.969,0.048) {flex};
\end{axis}

% ---------- titles and labels ----------
\node[anchor=base, font=\fontsize{14.5}{17}\selectfont] at (74.25pt,586.2pt) {MCP angle};
\node[anchor=base, font=\fontsize{14.5}{17}\selectfont] at (239.5pt,586.2pt) {MCP torque};
\foreach \yc in {520.25,375.25,229.75,84.25}{
  \node[rotate=90, font=\fontsize{11}{13}\selectfont] at (13.5pt,\yc pt) {angle (deg)};
  \node[rotate=90, font=\fontsize{11}{13}\selectfont] at (163pt,\yc pt) {torque (normalized)};
}
\node[anchor=base west, text=lettergray, font=\fontsize{34}{40}\selectfont] at (296pt,568.5pt) {a};
\node[anchor=base west, text=lettergray, font=\fontsize{34}{40}\selectfont] at (296pt,416pt) {b};
\node[anchor=base west, text=lettergray, font=\fontsize{34}{40}\selectfont] at (296pt,278pt) {c};
\node[anchor=base west, text=lettergray, font=\fontsize{34}{40}\selectfont] at (296pt,116pt) {d};
\node[anchor=base, font=\fontsize{9.6}{11}\selectfont] at (74.5pt,2pt) {time after cue};
\node[anchor=base, font=\fontsize{9.6}{11}\selectfont] at (242.5pt,2pt) {time after cue};
\end{tikzpicture}
\end{document}
